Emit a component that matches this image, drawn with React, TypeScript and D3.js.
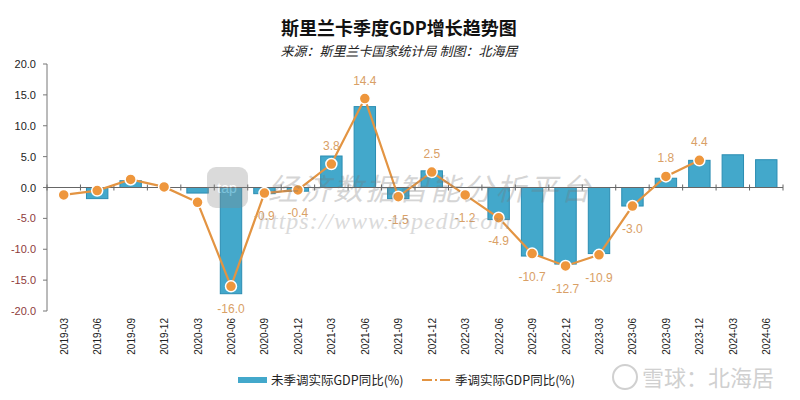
import React from 'react';
import * as d3 from 'd3';

const categories = ['2019-03','2019-06','2019-09','2019-12','2020-03','2020-06','2020-09','2020-12','2021-03','2021-06','2021-09','2021-12','2022-03','2022-06','2022-09','2022-12','2023-03','2023-06','2023-09','2023-12','2024-03','2024-06'];
const unadjusted: (number | null)[] = [null, -1.8, 1.1, 0, -0.9, -17.2, -1.0, -0.6, 5.1, 13.1, -1.8, 2.7, null, -5.2, -11.1, -12.4, -10.7, -3.0, 1.5, 4.4, 5.3, 4.5];
const adjusted: (number | null)[] = [-1.2, -0.5, 1.3, 0.1, -2.4, -16.0, -0.9, -0.4, 3.8, 14.4, -1.5, 2.5, -1.2, -4.9, -10.7, -12.7, -10.9, -3.0, 1.8, 4.4, null, null];
const labelShown: boolean[] = [false, false, false, false, false, true, true, true, true, true, true, true, true, true, true, true, true, true, true, true, false, false];
const yTicks = [20, 15, 10, 5, 0, -5, -10, -15, -20];

const title = '斯里兰卡季度GDP增长趋势图';
const subtitle = '来源：斯里兰卡国家统计局 制图：北海居';
const legendBar = '未季调实际GDP同比(%)';
const legendLine = '季调实际GDP同比(%)';

const W = 800, H = 400;
const left = 47, right = 783, top = 64, bottom = 311;

export default function App() {
  const x = d3.scaleBand<string>().domain(categories).range([left, right]).padding(0);
  const y = d3.scaleLinear().domain([-20, 20]).range([bottom, top]);
  const bw = x.bandwidth() * 0.64;
  const cx = (c: string) => (x(c) as number) + x.bandwidth() / 2;
  const lineData = categories.map((c, i) => ({ c, v: adjusted[i], i })).filter(d => d.v !== null) as { c: string; v: number; i: number }[];
  const line = d3.line<{ c: string; v: number }>().x(d => cx(d.c)).y(d => y(d.v));
  const num = 'Liberation Sans, Arial, sans-serif';
  const cjk = '"Noto Sans CJK SC", "Noto Sans", sans-serif';
  const boundaries = d3.range(categories.length + 1).map(i => left + i * x.step());

  return (
    <svg width={W} height={H} style={{ position: 'absolute', left: 0, top: 0, background: '#fff' }}>
      <rect x={0} y={0} width={W} height={H} fill="#fff" />
      <text x={399} y={35} textAnchor="middle" fontFamily={cjk} fontWeight="bold" fontSize={18} fill="#111">{title}</text>
      <text x={399} y={56} textAnchor="middle" fontFamily={cjk} fontStyle="italic" fontSize={13} fill="#222">{subtitle}</text>

      {/* y axis */}
      <line x1={left} x2={left} y1={top} y2={bottom} stroke="#777" />
      {yTicks.map(t => (
        <g key={t}>
          <line x1={left - 4} x2={left} y1={y(t)} y2={y(t)} stroke="#777" />
          <text x={36} y={y(t) + 4} textAnchor="end" fontFamily={num} fontSize={11} fill={t < 0 ? '#8e3b3b' : '#222'}>{t.toFixed(1)}</text>
        </g>
      ))}

      {/* bars */}
      {categories.map((c, i) => {
        const v = unadjusted[i];
        if (v === null || v === 0) return null;
        const y0 = y(0), y1 = y(v);
        return (
          <rect key={c} x={cx(c) - bw / 2} width={bw} y={Math.min(y0, y1)} height={Math.abs(y1 - y0)}
            fill="#43a8cb" stroke="#2b8db2" strokeWidth={1} />
        );
      })}

      {/* x axis at zero */}
      <line x1={left} x2={right} y1={y(0)} y2={y(0)} stroke="#666" />
      {boundaries.map((b, i) => (
        <line key={i} x1={b} x2={b} y1={y(0) - 3} y2={y(0) + 3} stroke="#666" />
      ))}

      {/* line */}
      <path d={line(lineData) || ''} fill="none" stroke="#e39442" strokeWidth={2.2} />
      {lineData.map(d => (
        <circle key={d.c} cx={cx(d.c)} cy={y(d.v)} r={5.5} fill="#ee963c" stroke="#fff" strokeWidth={1.5} />
      ))}
      {lineData.filter(d => labelShown[d.i]).map(d => (
        <text key={d.c} x={cx(d.c)} y={d.v >= 0 ? y(d.v) - 14 : y(d.v) + 27} textAnchor="middle"
          fontFamily={num} fontSize={12} fill="#d9a066">{d.v.toFixed(1)}</text>
      ))}

      {/* x labels */}
      {categories.map(c => (
        <text key={c} transform={`translate(${cx(c) + 4},318) rotate(-90)`} textAnchor="end"
          fontFamily={num} fontSize={10} fill="#222">{c}</text>
      ))}

      {/* watermark */}
      <g opacity={0.3}>
        <rect x={207} y={167} width={41} height={41} rx={9} fill="#888" />
        <text x={227} y={193} textAnchor="middle" fontFamily={num} fontSize={14} fill="#fff">tap</text>
        <text x={268} y={200} fontFamily={cjk} fontStyle="italic" fontSize={30} letterSpacing={2.5} fill="#777">经济数据智能分析平台</text>
        <text x={258} y={229} fontFamily='"Liberation Serif", serif' fontStyle="italic" fontSize={24} letterSpacing={1} fill="#888">https://www.topedb.com</text>
      </g>

      {/* legend */}
      <rect x={238} y={377} width={29} height={6} fill="#43a8cb" />
      <text x={271} y={384.5} fontFamily={cjk} fontSize={12.5} fill="#222">{legendBar}</text>
      <line x1={422} x2={452} y1={380} y2={380} stroke="#e39442" strokeWidth={2} strokeDasharray="10,3,2,3" />
      <text x={455} y={384.5} fontFamily={cjk} fontSize={12.5} fill="#222">{legendLine}</text>

      {/* bottom-right watermark */}
      <g opacity={0.55}>
        <circle cx={625} cy={377} r={12} fill="none" stroke="#aaa" strokeWidth={2} />
        <text x={642} y={386} fontFamily={cjk} fontSize={22} fill="#aaa">雪球：北海居</text>
      </g>
    </svg>
  );
}
